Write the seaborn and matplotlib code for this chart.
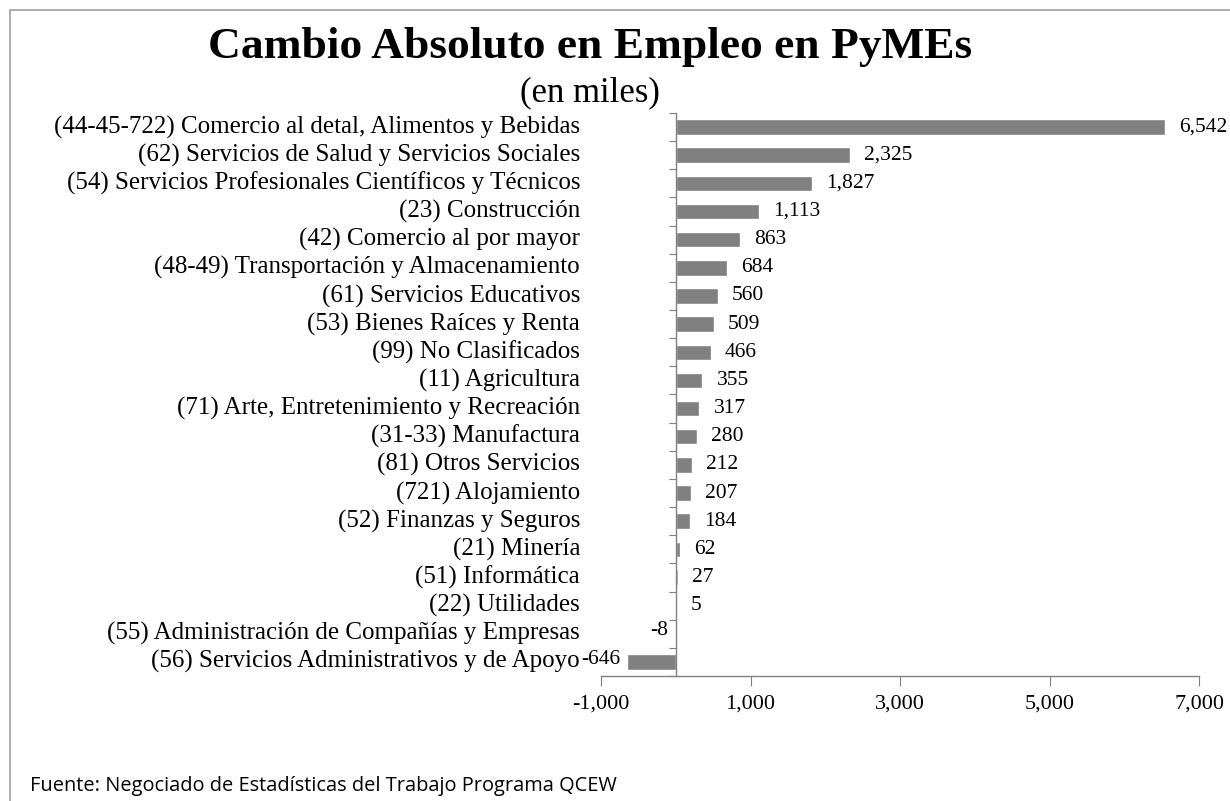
import matplotlib
matplotlib.use("Agg")
import matplotlib.pyplot as plt
import matplotlib.transforms as mtransforms
from matplotlib.patches import Rectangle
import seaborn as sns
import pandas as pd

categories = [
    "(44-45-722) Comercio al detal, Alimentos y Bebidas",
    "(62) Servicios de Salud y Servicios Sociales",
    "(54) Servicios Profesionales Científicos y Técnicos",
    "(23) Construcción",
    "(42) Comercio al por mayor",
    "(48-49) Transportación y Almacenamiento",
    "(61) Servicios Educativos",
    "(53) Bienes Raíces y Renta",
    "(99) No Clasificados",
    "(11) Agricultura",
    "(71) Arte, Entretenimiento y Recreación",
    "(31-33) Manufactura",
    "(81) Otros Servicios",
    "(721) Alojamiento",
    "(52) Finanzas y Seguros",
    "(21) Minería",
    "(51) Informática",
    "(22) Utilidades",
    "(55) Administración de Compañías y Empresas",
    "(56) Servicios Administrativos y de Apoyo",
]
values = [6542, 2325, 1827, 1113, 863, 684, 560, 509, 466, 355, 317, 280, 212, 207, 184, 62, 27, 5, -8, -646]
xticks = [-1000, 1000, 3000, 5000, 7000]

df = pd.DataFrame({"cat": categories, "val": values})

sns.set_style("white")
plt.rcParams["font.family"] = ["Liberation Serif", "DejaVu Serif"]
plt.rcParams["text.color"] = "black"
plt.rcParams["xtick.color"] = "black"

fig = plt.figure(figsize=(12.3, 8.01), dpi=100)
ax = fig.add_axes([601 / 1230, 1 - 676 / 801, 598 / 1230, (676 - 113) / 801])

sns.barplot(data=df, y="cat", x="val", orient="h", color="#808080",
            saturation=1, width=0.55, ax=ax)

ax.set_xlim(-1000, 7000)
ax.set_ylim(len(categories) - 0.5, -0.5)
ax.set_xticks(xticks)
ax.set_xticklabels([f"{t:,}" for t in xticks], fontsize=16)
ax.set_xlabel("")
ax.set_ylabel("")

for s in ["top", "right"]:
    ax.spines[s].set_visible(False)
ax.spines["left"].set_position(("data", 0))
ax.spines["left"].set_color("#808080")
ax.spines["bottom"].set_color("#808080")
ax.spines["left"].set_linewidth(1)
ax.spines["bottom"].set_linewidth(1)

ax.set_yticks([i + 0.5 for i in range(-1, len(categories))])
ax.set_yticklabels([])
ax.tick_params(axis="y", length=5, color="#808080", direction="out", left=True)
ax.tick_params(axis="x", length=7, color="#808080", labelcolor="black",
               direction="out", bottom=True, pad=6)

trans = mtransforms.blended_transform_factory(ax.transAxes, ax.transData)
for i, c in enumerate(categories):
    ax.text(-0.035, i, c, transform=trans, ha="right", va="center", fontsize=18)

for i, v in enumerate(values):
    if v >= 0:
        ax.text(v + 190, i, f"{v:,}", ha="left", va="center", fontsize=15.5)
    else:
        ax.text(v - 90, i - 0.1, f"{v:,}", ha="right", va="center", fontsize=15.5)

fig.text(590 / 1230, 1 - 47 / 801, "Cambio Absoluto en Empleo en PyMEs",
         ha="center", va="center", fontsize=32.7, fontweight="bold")
fig.text(590 / 1230, 1 - 93 / 801, "(en miles)", ha="center", va="center", fontsize=25)
fig.text(30 / 1230, 1 - 786 / 801,
         "Fuente: Negociado de Estadísticas del Trabajo Programa QCEW",
         ha="left", va="center", fontsize=14.4, family=["Open Sans", "DejaVu Sans"])

fig.add_artist(Rectangle((10 / 1230, -0.01), 1.02, 1 - 10 / 801 + 0.01,
                         transform=fig.transFigure, fill=False,
                         edgecolor="#a0a0a0", linewidth=1.2))

fig.savefig("out.png", dpi=100)
